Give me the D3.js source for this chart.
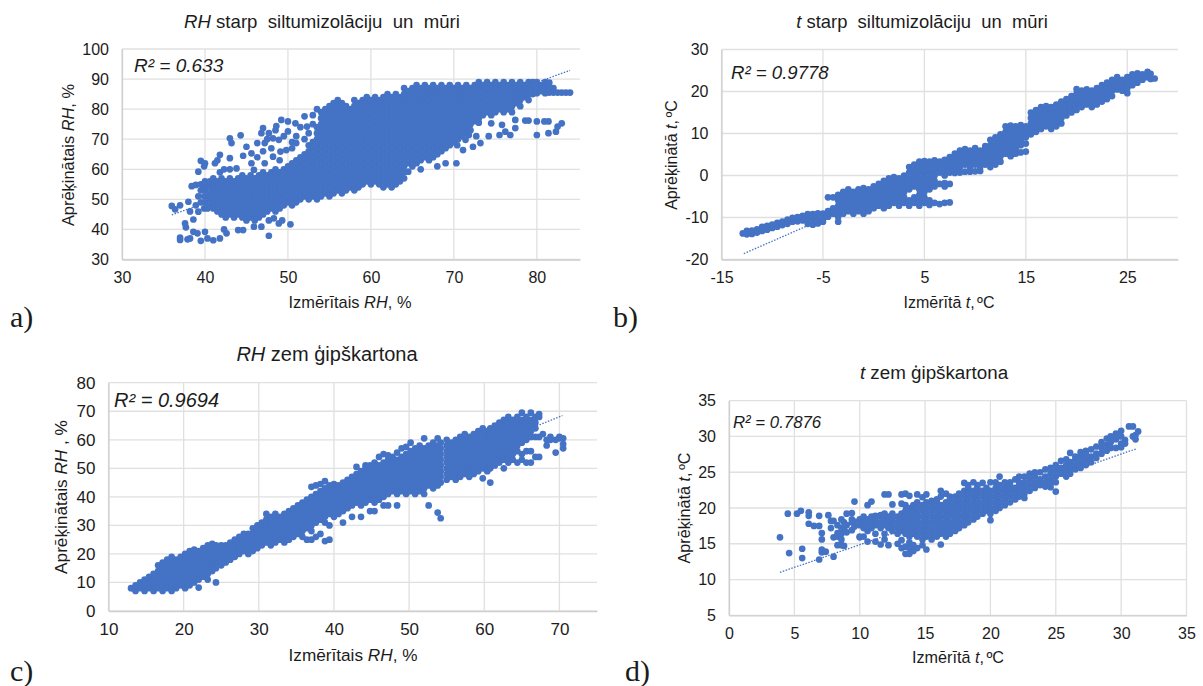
<!DOCTYPE html>
<html><head><meta charset="utf-8">
<script src="https://cdn.jsdelivr.net/npm/d3@7"></script>
<style>html,body{margin:0;background:#fff}svg{display:block}text{font-family:"Liberation Sans",Arial,sans-serif;fill:#1c1c1c}</style>
</head><body><svg id="c" width="1203" height="686"></svg>
<script>
// each row: measured x, then the calculated y values read at that x
const columnsA=[
[36,47.8],[36.4,46.7],[37,48,37.3,36.5],[37.6,42],[37.7,40.7],[37.9,36.7],[38,49.2],[38.2,37,46],[38.4,54.4],[38.6,43.3,39.2],[38.9,54.8,48],[39.1,38.7],[39.2,45.9,59.2,51],[39.5,62.8,49,53,55,36.2],[39.9,61,47,51,54],[40,62,39.2,49,53,56],[40.3,37,47,51,55],[40.6,48,50,52,54,56],[41,36.4,47,49,51,53,55,57],[41.2,62],[41.5,63,46,48,50,52,54,56],[41.8,64.8,37,59],[42,45,47,49,51,53,55,57],[42.3,40,60],[42.5,44,46,48,50,52,54,56],[42.6,38.7],[43,63.7,70.3,60,45,47,49,51,53,55,57],[43.2,68.7],[43.5,44,46,48,50,52,54,56],[43.8,60.3],[44,39.8,45,47,49,51,53,55,57],[44.3,71.3],[44.5,44,46,48,50,52,54,56,58],[44.6,64.5,39.8],[45,67.5,43,45,47,49,51,53,55,57],[45.5,44,46,48,50,52,54,56,58],[45.6,65.3,62],[45.9,40.9,59.8],[46,43,45,47,49,51,53,55,57],[46.3,68.7,64],[46.5,44,46,48,50,52,54,56,58],[46.8,40.9,72],[47,73.7,45,47,49,51,53,55,57,59,66],[47.2,68.7,62],[47.5,46,48,50,52,54,56,58,70],[47.7,37.9,43,72],[48,47,49,51,53,55,57,59,67],[48.2,70.3,64.2],[48.3,43.7],[48.5,46,48,50,52,54,56,58,60,73],[48.6,74.4],[48.9,42,69.8],[49,47,49,51,53,55,57,59,63],[49.1,65.9],[49.2,76.4],[49.3,43],[49.5,48,50,52,54,56,58,60,71],[49.8,66.4],[50,75.9,72.6,49,51,53,55,57,59,61],[50.3,41.7],[50.5,48,50,52,54,56,58,60,62,69,67],[50.9,75.3],[51,68.7,49,51,53,55,57,59,61,63,71],[51.5,50,52,54,56,58,60,62,64,74],[52,77.6,51,53,55,57,59,61,63,65,70],[52.3,74.2],[52.5,50,52,54,56,58,60,62,64,66,68,72],[53,51,53,55,57,59,61,63,65,67,69,75,78],[53.5,50,52,54,56,58,60,62,64,66,68,70,72,74,80],[54,51,53,55,57,59,61,63,65,67,69,71,73,75,77,79],[54.5,52,54,56,58,60,62,64,66,68,70,72,74,76,78,80],[55,51,53,55,57,59,61,63,65,67,69,71,73,75,77,79,81],[55.5,52,54,56,58,60,62,64,66,68,70,72,74,76,78,80,82],[56,53,55,57,59,61,63,65,67,69,71,73,75,77,79,81,83],[56.5,52,54,56,58,60,62,64,66,68,70,72,74,76,78,80,82],[57,53,55,57,59,61,63,65,67,69,71,73,75,77,79,81],[57.5,54,56,58,60,62,64,66,68,70,72,74,76,78,80],[58,53,55,57,59,61,63,65,67,69,71,73,75,77,79,81,83],[58.5,54,56,58,60,62,64,66,68,70,72,74,76,78,80,82],[59,55,57,59,61,63,65,67,69,71,73,75,77,79,81,83],[59.5,56,58,60,62,64,66,68,70,72,74,76,78,80,82,84],[60,55,57,59,61,63,65,67,69,71,73,75,77,79,81,83],[60.5,56,58,60,62,64,66,68,70,72,74,76,78,80,82,84],[61,55,57,59,61,63,65,67,69,71,73,75,77,79,81,83],[61.5,54,56,58,60,62,64,66,68,70,72,74,76,78,80,82,84],[62,55,57,59,61,63,65,67,69,71,73,75,77,79,81,83,85],[62.5,54,56,58,60,62,64,66,68,70,72,74,76,78,80,82,84],[63,55,57,59,61,63,65,67,69,71,73,75,77,79,81,83,85],[63.5,56,58,60,62,64,66,68,70,72,74,76,78,80,82,84],[64,57,59,61,63,65,67,69,71,73,75,77,79,81,83,85,87],[64.5,59.2,62,64,66,68,70,72,74,76,78,80,82,84,86],[65,61,63,65,67,69,71,73,75,77,79,81,83,85,87],[65.5,62,64,66,68,70,72,74,76,78,80,82,84,86,88],[66,60,63,65,67,69,71,73,75,77,79,81,83,85,87],[66.5,64,66,68,70,72,74,76,78,80,82,84,86,88],[67,63,65,67,69,71,73,75,77,79,81,83,85,87],[67.5,64,66,68,70,72,74,76,78,80,82,84,86,88],[68,61,65,67,69,71,73,75,77,79,81,83,85,87],[68.5,66,68,70,72,74,76,78,80,82,84,86,88],[69,62,67,69,71,73,75,77,79,81,83,85,87],[69.5,68,70,72,74,76,78,80,82,84,86,88],[70,69,71,73,75,77,79,81,83,85,87],[70.3,62],[70.4,68],[70.5,70,72,74,76,78,80,82,84,86,88],[71,71,73,75,77,79,81,83,85,87],[71.1,66.4],[71.4,69.8],[71.5,72,74,76,78,80,82,84,86,88],[71.8,71.4],[72,73,75,77,79,81,83,85,87],[72.3,67.5],[72.5,76,78,80,82,84,86,88],[72.7,71],[73,75.5,77,79,81,83,85,87,89],[73.2,68.7],[73.5,78,80,82,84,86,88],[74,79,81,83,85,87,89],[74.2,71],[74.5,75.3,78,80,82,84,86,88],[75,79,81,83,85,87,89],[75.5,71.4,80,82,84,86,88],[75.8,74.8],[76,79,81,83,85,87,89],[76.2,72.5],[76.5,80,82,84,86,88],[76.8,71.4],[77,79,81,83,85,87,89],[77.4,76.4,73.7],[77.5,82,84,86,88],[78,81,83,85,87,89],[78.5,84,86,88],[78.6,76.2],[79,76.2,83,85,87,89],[79.5,85,87,89],[80,71.4,75.9,85.3,87,89],[80.5,86,88],[80.9,75.9],[81,85.3,87,89],[81.4,75.9,72],[81.5,85.5,87,88.8],[82,85.5,87],[82.3,72.5],[82.5,74.2,85.5],[83,75.3,85.5],[83.5,85.5],[84,85.5]];
const columnsB=[
[-12.9,-13.8],[-12.5,-14,-13.2],[-12,-13.9,-13.1],[-11.5,-13.6,-12.8],[-11,-13.2,-12.2],[-10.5,-12.9,-12],[-10,-12.5,-11.7],[-9.5,-12.2,-11.3],[-9,-11.8,-11],[-8.5,-11.5,-10.5],[-8,-11,-10.1],[-7.5,-10.9,-9.9],[-7,-10.7,-9.6],[-6.5,-11.5,-10.2,-9.2],[-6,-11.7,-10.4,-9.2],[-5.5,-11.4,-10.2,-9],[-5,-11,-10.4,-9.1],[-4.5,-9.8,-8.5,-5.2],[-4,-9.1,-7.8,-5.2],[-3.5,-11,-9.8,-8.5,-7.2,-5.9,-4.6],[-3,-9.1,-7.8,-6.5,-5.2,-3.9],[-2.5,-8.5,-7.2,-5.9,-4.6,-3.3],[-2,-9.1,-7.8,-6.5,-5.2,-3.9],[-1.5,-8.5,-7.2,-5.9,-4.6,-3.3],[-1,-9.1,-7.8,-6.5,-5.2,-3.9,-3],[-0.5,-8.5,-7.2,-5.9,-4.6,-3.3],[0,-7.8,-6.5,-5.2,-3.9,-2.6],[0.5,-7.2,-5.9,-4.6,-3.3,-2],[1,-7.8,-6.5,-5.2,-3.9,-2.6,-1.3],[1.5,-7.2,-5.9,-4.6,-3.3,-2,-0.7],[2,-6.5,-5.2,-3.9,-2.6,-1.3,-0.4],[2.5,-7.2,-5.9,-4.6,-3.3,-2,-0.7],[3,-6.5,-5.2,-3.9,-2.6,-1.3,0],[3.5,-7.2,-5.9,-3.3,-2,-0.7,0.7,2],[4,-6.5,-5.2,-2.6,-1.3,0,1.3,2.6],[4.5,-7.2,-5.9,-4.6,-3.3,-2,-0.7,0.7,2,3.3],[5,-6.5,-5.2,-3.9,-2.6,-1.3,0,1.3,2.6,3.4],[5.5,-7,-5.9,-3.3,-2,-0.7,0.7,2,3.3],[6,-6.5,-2.6,-1.3,0,1.3,2.6,3.6],[6.5,-6.8,-2,0.7,2,3.3],[7,-6.5,-2.6,-1.8,0,1.3,2.6,3.7],[7.5,-6.4,-2,0.7,2,3.3,4.4],[8,0.6,1.3,2.6,3.9,5.2],[8.5,0.7,2,3.3,4.6,5.9],[9,0.9,2.6,3.9,5.2,6.3],[9.5,0.9,2,3.3,4.6,5.9],[10,1,2.6,3.9,5.2,6.5],[10.5,1.1,2,3.3,4.6,5.9],[11,2.6,3.9,5.2,6.5,7],[11.5,2,3.3,4.6,5.9,7.2,8.5],[12,2.6,3.9,5.2,6.5,7.8,9.1],[12.5,3.3,4.6,5.9,7.2,8.5,9.8],[13,5.2,6.5,7.8,9.1,10.4,11.7],[13.5,4.6,5.9,7.2,8.5,9.8,11.1,11.9],[14,5.2,6.5,7.8,9.1,10.4,11.7],[14.5,5.5,7.2,8.5,9.8,11.1,12],[15,5.7,7.6,9.1,10.4,11.7],[15.5,9.8,11.1,12.4,13.7,15],[16,10.4,11.7,13,14.3,15.6],[16.5,11.1,12.4,13.7,15,16.3],[17,11.7,13,14.3,15.6,16.5],[17.5,11.1,12.4,13.7,15,16.3],[18,11.7,13,14.3,15.6,16.9],[18.5,12.4,13.7,15,16.3,17.6],[19,14.3,15.6,16.9,18.2],[19.5,15,16.3,17.6,18.9],[20,15.6,16.9,18.2,19.5,20.6],[20.5,16.3,17.6,18.9,20.2],[21,16.9,18.2,19.5,20.5],[21.5,16.3,17.6,18.9,20.2],[22,16.9,18.2,19.5,20.8],[22.5,17.6,18.9,20.2,21.5],[23,18.2,19.5,20.8,22.1],[23.5,18.9,20.2,21.5,22.8],[24,20.5,20.8,22.1,23.4],[24.5,20.2,21.5,22.8],[25,19.6,20.8,22.1,23.4],[25.5,21.5,22.8,24.1],[26,22.1,23.4,24.3],[26.5,22.8,24.1],[27,23.4,24.7],[27.3,23,24.2],[27.7,23.1]];
const columnsC=[
[13,8],[13.6,7,9],[14.2,8,10],[14.8,7,9,11],[15.4,8,10,12],[16,7,9,11,13],[16.6,8,10,12,14,16],[17.2,7,9,11,13,15,17],[17.8,8,10,12,14,16,18],[18.4,7,9,11,13,15,17,19],[19,8,10,12,14,16,18],[19.6,9,11,13,15,17,19],[20.2,8,10,12,14,16,18,20],[20.8,9,11,13,15,17,19,21],[21.4,10,12,14,16,18,20,21.5],[22,8.2,11,13,15,17,19,21],[22.6,12,14,16,18,20,22],[23.2,11,13,15,17,19,21,23],[23.8,14,16,18,20,22,23.5],[24.3,10,15,17,19,21,23],[25,16,18,20,22,23],[25.6,17,19,21,23],[26.2,18,20,22,24],[26.8,19,21,23,25],[27.4,20,22,24,26],[28,21,23,25,27],[28.6,20,22,24,26,27],[29.2,21,23,25,27,29],[29.8,22,24,26,28,30],[30.4,23,25,27,29,31],[31,24,26,28,30,32,34],[31.6,23,25,27,29,31,33],[32.2,24,26,28,30,32,34],[32.8,25,27,29,31,33],[33.4,24,26,28,30,32,34],[34,25,27,29,31,33,35],[34.6,26,28,30,32,34,36],[35.2,27,29,31,33,35,37],[35.8,26,28,30,32,34,36,38],[36.4,25,29,31,33,35,37,39],[37,25,28,30,32,34,36,38,40,43.5],[37.6,26,31,33,35,37,39,41,44],[38.2,27,32,34,36,38,40,42,44.5],[38.8,24.5,31,33,35,37,39,41,43,45.5],[39.4,25,30,34,36,38,40,42,44],[40,33,35,37,39,41,43,44.5],[40.6,34,36,38,40,42,44],[41.2,31,35,37,39,41,43,45],[41.8,36,38,40,42,44,46],[42.4,33,37,39,41,43,45,47],[43,38,40,42,44,46,48,50.5],[43.6,33,37,39,41,43,45,47,49],[44.2,38,40,42,44,46,48,50,51],[44.8,35,39,41,43,45,47,49,51],[45.4,35,38,40,42,44,46,48,50,52],[46,39,41,43,45,47,49,51,54],[46.6,37,40,42,44,46,48,50,52,55],[47.2,37,41,43,45,47,49,51,53,54.5],[47.8,42,44,46,48,50,52,54],[48.4,37,41,43,45,47,49,51,53,55.5],[49,42,44,46,48,50,52,54,57],[49.6,41,43,45,47,49,51,53,55,57.5],[50.2,42,44,46,48,50,52,54,56,59],[50.8,41,43,45,47,49,51,53,55,57],[51.4,42,44,46,48,50,52,54,56,58],[52,41,43,45,47,49,51,53,55,57,60.5],[52.6,37,44,46,48,50,52,54,56,58],[53.2,43,45,47,49,51,53,55,57,59],[53.8,34.5,44,46,48,50,52,54,56,58,60.5],[54.2,32.5,45,47,49,51,53,55,57,59],[55,46,48,50,52,54,56,58,60],[55.6,47,49,51,53,55,57,59],[56.2,46,48,50,52,54,56,58,60],[56.8,47,49,51,53,55,57,59,61],[57.4,48,50,52,54,56,58,60,62],[58,47,49,51,53,55,57,59,61],[58.6,48,50,52,54,56,58,60,62],[59.2,49,51,53,55,57,59,61,63],[59.8,46.5,50,52,54,56,58,60,62,64],[60.4,49,51,53,55,57,59,61,63],[60.8,45,50,52,54,56,58,60,62,64],[61.4,51,53,55,57,59,61,63,65],[62,52,54,56,58,60,62,64,66],[62.6,50,53,55,57,59,61,63,65,67],[63.2,52,54,56,58,60,62,64,66,68],[63.8,53,55,57,59,61,63,65,67],[64.4,52,56,58,60,62,64,66,68],[65,53,55,59,61,63,65,67,69.5],[65.6,52,56,60,62,64,66,68],[66.2,52,56,61,63,65,67,69.5],[66.8,54,61,64,66,68],[67.3,54,61,68,69],[67.8,62],[68.3,58,60],[68.8,60,61],[69.5,55.5,60],[70,60.5,61],[70.5,57,58.5,60.5]];
const columnsD=[
[3.9,15.9],[4.5,19.2],[4.6,13.7],[5.2,19.2],[5.5,19.6],[5.6,14.3,13],[6.1,19.4,18.9,17.8],[6.5,17.5],[6.9,17.5,18.9,12.8],[7.1,15.6,16.5,14.2,13.8],[7.4,13.9],[7.6,19],[7.8,18.2,17.2],[8,13.2,18.2,15.9],[8.3,14.8,16.5,16,17.6],[8.6,17.2,18.4,16.4,15.6,14.8],[8.8,17,14.7,18],[9,19.2,17.6,16.6],[9.4,19.3,18,18.4,16.9],[9.6,20.9,18.1,17.4],[10,16,17.6,18.4,15.9],[10.3,18.8,18,17.2,16],[10.6,20.4,17.6,18.4,15.3,16.8],[10.9,20.9,18,18.8,17.2],[11.2,18.9,17.6,16.4,15.3,18.4],[11.6,19,18,17.2,14.9,18.8],[11.9,21.9,18.4,19.2,17.6,16.4,15.6],[12.2,21.9,18.8,18,17.2,14.8],[12.5,20.5,18.4,19.2,17.6,16.8],[12.9,18.8,18,17.2,16.4,15],[13.2,21.9,20.6,17.6,18.4,19.2,16.8,15.5,14.4],[13.5,22,20.4,19.6,18.8,18,17.2,16.4,14.6,13.6],[13.8,21.7,20,19.2,18.4,17.6,16.8,16,15.2,14.4,13.6],[14.1,20.4,19.6,18.8,18,17.2,16.4,14.8,14],[14.4,21.9,20.8,20,19.2,18.4,17.6,16.8,16,14.4],[14.8,21.5,20.4,19.6,18.8,18,17.2,16.4,15.6,14.8],[15.1,21.9,20.8,20,19.2,18.4,17.6,16.8,16,14.2],[15.5,20.4,19.6,18.8,18,17.2,16.4,15.6,21],[15.9,21.2,20.8,20,19.2,18.4,17.6,16.8,16],[16.2,22.4,21.6,20.4,19.6,18.8,18,17.2,16.4,14.9],[16.6,22,20.8,20,19.2,18.4,17.6,16.8,16],[16.9,21.6,21.2,20.4,19.6,18.8,18,17.2,16.4],[17.3,21.6,20.8,20,19.2,18.4,17.6,16.8],[17.6,22,21.2,20.4,19.6,18.8,18,17.2],[18,23.5,22.4,21.6,20.8,20,19.2,18.4,17.6],[18.3,23.2,22.8,22,21.2,20.4,19.6,18.8,18],[18.7,23.6,22.4,21.6,20.8,20,19.2,18.4],[19,23.2,22.8,22,21.2,20.4,19.6,18.8],[19.4,23.5,22.4,21.6,20.8,20,19.2],[19.7,22.8,22,21.2,20.4,19.6],[20,23.6,22.4,21.6,20.8,20,19.2,18.3],[20.4,23.6,22.8,22,21.2,20.4,19.6],[20.7,24.4,23.2,22.4,21.6,20.8,20],[21.1,23.6,22.8,22,21.2,20.4],[21.5,23.6,23.2,22.4,21.6,20.8],[21.9,24,22.8,22,21.2],[22.2,24.4,23.6,23.2,22.4,21.6],[22.6,24.4,23.6,22.8,22,21.4],[23,24.8,24,23.2,22.4],[23.4,25,24.4,23.6,22.8],[23.8,25,24,23.2],[24.2,25.4,24.4,23.6,23],[24.6,25.6,24.8,24,23.4,22.9],[25,26,25.2,24.4,23.6,22.3],[25.4,26.6,25.6,24.8],[25.8,26.8,26,25.2,24.4],[26.1,27.7,26.4,25.6,24.8],[26.5,27.2,26.8,26,25.4],[26.9,27.8,27.2,26.4,25.6],[27.3,28,27.6,26.8,26],[27.7,28.2,27.2,26.4],[28.1,28.6,27.6,27],[28.5,29.2,28.4,27.6],[28.9,29.7,28.8,28],[29.2,30,29.2,28.4],[29.6,30.4,29.6,28.4],[30,30.8,30,29,28.5],[30.3,29.5,29],[30.6,31.4],[30.9,31.4,30],[31.1,29.6,30.2],[31.3,30.7]];
const trendA=[[36,44.8],[84,92.9]], trendB=[[-12.8,-18.6],[27.5,24]], trendC=[[13,7],[70.4,68.5]], trendD=[[3.9,11],[31.2,28.3]];
const ticksAx=[30,40,50,60,70,80], ticksAy=[30,40,50,60,70,80,90,100];
const ticksBx=[-15,-5,5,15,25], ticksBy=[-20,-10,0,10,20,30];
const ticksCx=[10,20,30,40,50,60,70], ticksCy=[0,10,20,30,40,50,60,70,80];
const ticksDx=[0,5,10,15,20,25,30,35], ticksDy=[5,10,15,20,25,30,35];

const svg=d3.select('#c'), BLUE='#4472C4';
function rich(sel,parts){parts.forEach(p=>{const t=sel.append('tspan').attr('font-style',p[1]?'italic':'normal').text(p[0]);if(p[2])t.attr('dx',p[2]);});return sel;}
function panel(o){
  const sx=d3.scaleLinear().domain(o.dx).range(o.rx), sy=d3.scaleLinear().domain(o.dy).range(o.ry);
  const g=svg.append('g');
  const [L,R]=sx.range(), [B,T]=sy.range();
  g.append('g').selectAll('line').data(o.tx).join('line').attr('x1',d=>sx(d)).attr('x2',d=>sx(d)).attr('y1',T).attr('y2',B).attr('stroke','#e0e0e0').attr('stroke-width',1.3);
  g.append('g').selectAll('line').data(o.ty).join('line').attr('y1',d=>sy(d)).attr('y2',d=>sy(d)).attr('x1',L).attr('x2',R).attr('stroke','#e0e0e0').attr('stroke-width',1.3);
  const ax=g.append('g').attr('transform',`translate(0,${B})`).call(d3.axisBottom(sx).tickValues(o.tx).tickSize(0).tickPadding(12).tickFormat(String));
  const ay=g.append('g').attr('transform',`translate(${L},0)`).call(d3.axisLeft(sy).tickValues(o.ty).tickSize(0).tickPadding(13).tickFormat(String));
  [ax,ay].forEach(a=>{a.select('.domain').attr('stroke','#cfcfcf').attr('stroke-width',1.3);a.selectAll('text').attr('font-size',o.fs).attr('font-family','"Liberation Sans"').attr('fill','#1c1c1c');});
  g.append('path').datum(o.trend).attr('d',d3.line().x(d=>sx(d[0])).y(d=>sy(d[1]))).attr('fill','none').attr('stroke',BLUE).attr('stroke-width',1.3).attr('stroke-dasharray','1.5 1.5');
  const pts=o.cols.flatMap(c=>c.slice(1).map(y=>[c[0],y]));
  g.append('g').selectAll('circle').data(pts).join('circle').attr('cx',d=>sx(d[0])).attr('cy',d=>sy(d[1])).attr('r',3.35).attr('fill',BLUE);
  rich(g.append('text').attr('x',o.title[0]).attr('y',o.title[1]).attr('text-anchor','middle').attr('font-size',o.tfs).attr('xml:space','preserve'),o.titleText);
  rich(g.append('text').attr('x',o.xl[0]).attr('y',o.xl[1]).attr('text-anchor','middle').attr('font-size',o.lfs),o.xlText);
  rich(g.append('text').attr('transform',`translate(${o.yl[0]},${o.yl[1]}) rotate(-90)`).attr('text-anchor','middle').attr('font-size',o.lfs),o.ylText);
  g.append('text').attr('x',o.r2[0]).attr('y',o.r2[1]).attr('font-size',o.r2fs).attr('font-style','italic').text(o.r2Text);
  g.append('text').attr('x',o.tag[0]).attr('y',o.tag[1]).attr('font-size',30).style('font-family','"Liberation Serif",serif').text(o.tagText);
}
panel({cols:columnsA,trend:trendA,dx:[30,85.2],dy:[30,100],rx:[122,580],ry:[259.5,49],tx:ticksAx,ty:ticksAy,fs:16,lfs:16.4,tfs:18.6,
 title:[322,28],titleText:[['RH',1],[' starp  siltumizolāciju  un  mūri',0]],xl:[350,308],xlText:[['Izmērītais ',0],['RH',1],[', %',0]],yl:[74,155],ylText:[['Aprēķinātais ',0],['RH',1],[', %',0]],r2:[134,72],r2fs:19,r2Text:'R² = 0.633',tag:[10,327],tagText:'a)'});
panel({cols:columnsB,trend:trendB,dx:[-15,30],dy:[-20,30],rx:[721.5,1178],ry:[259.5,49.5],tx:ticksBx,ty:ticksBy,fs:16,lfs:16,tfs:18.4,
 title:[922,28],titleText:[['t',1],[' starp  siltumizolāciju  un  mūri',0]],xl:[949,308],xlText:[['Izmērītā ',0],['t',1],[', ',0],['ºC',0,-2]],yl:[677,155],ylText:[['Aprēķinātā ',0],['t',1],[',  ',0],['ºC',0,-2]],r2:[731,79],r2fs:18.6,r2Text:'R² = 0.9778',tag:[613,327],tagText:'b)'});
panel({cols:columnsC,trend:trendC,dx:[10,75],dy:[0,80],rx:[108.5,597],ry:[611,382.7],tx:ticksCx,ty:ticksCy,fs:17,lfs:17.2,tfs:20,
 title:[327,361],titleText:[['RH',1],[' zem ģipškartona',0]],xl:[353,661],xlText:[['Izmērītais ',0],['RH',1],[', %',0]],yl:[67,497],ylText:[['Aprēķinātais ',0],['RH',1],[' , %',0]],r2:[114,407],r2fs:20,r2Text:'R² = 0.9694',tag:[10,681],tagText:'c)'});
panel({cols:columnsD,trend:trendD,dx:[0,35],dy:[5,35],rx:[729,1186.5],ry:[615.3,400.7],tx:ticksDx,ty:ticksDy,fs:16,lfs:16.2,tfs:18.8,
 title:[934,379],titleText:[['t',1],[' zem ģipškartona',0]],xl:[958,663],xlText:[['Izmērītā ',0],['t',1],[', ',0],['ºC',0,-2]],yl:[690,508],ylText:[['Aprēķinātā ',0],['t',1],[', ',0],['ºC',0,-2]],r2:[733,428],r2fs:16.8,r2Text:'R² = 0.7876',tag:[625,681],tagText:'d)'});
</script></body></html>
